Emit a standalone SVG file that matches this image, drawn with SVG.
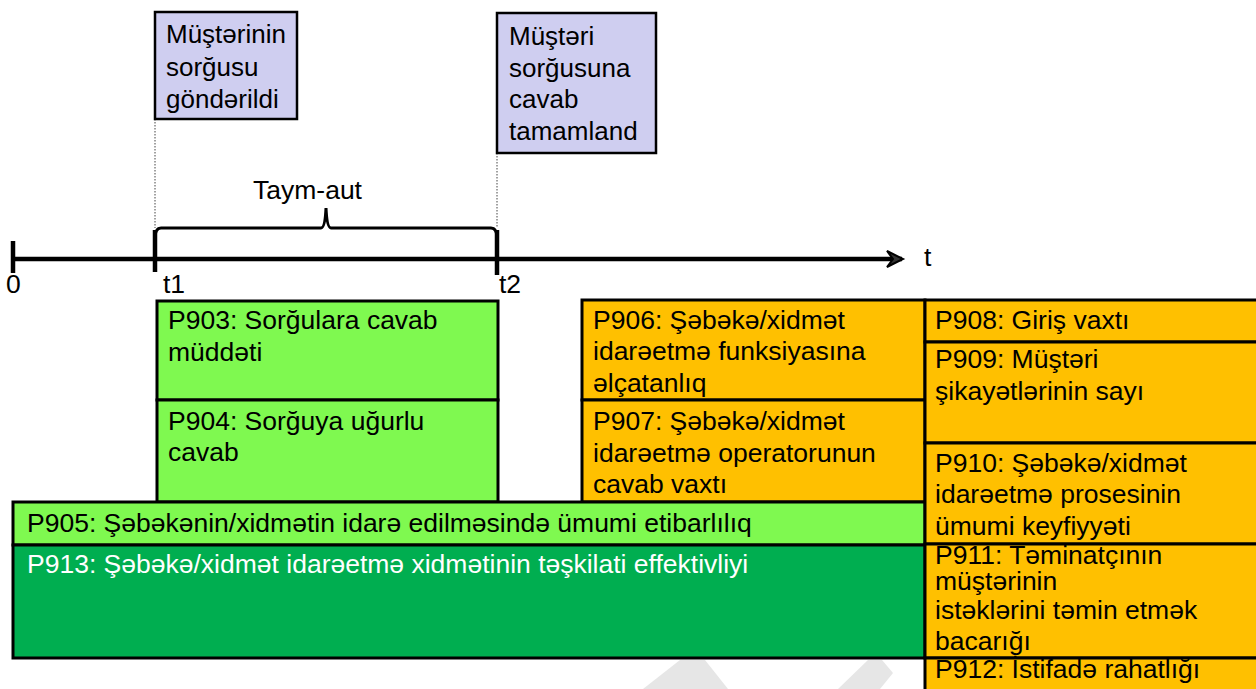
<svg xmlns="http://www.w3.org/2000/svg" width="1256" height="689" viewBox="0 0 1256 689">
  <style>
    text { font-family: "Liberation Sans", Arial, sans-serif; font-size: 26.5px; fill: #000; }
    .box { stroke: #000; stroke-width: 3; }
    .light { fill: #7FF950; }
    .dark { fill: #00AE50; }
    .gold { fill: #FFC000; }
    .event { fill: #CFCEF0; stroke: #000; stroke-width: 2.5; }
    .guide { stroke: #444; stroke-width: 1; stroke-dasharray: 1.5 1.5; fill: none; }
    .axis { stroke: #000; stroke-width: 4.5; fill: none; }
    .white { fill: #fff; }
    .tight { font-size: 26px; }
  </style>
  <defs>
    <marker id="arrow" viewBox="0 0 20 20" refX="16" refY="10" markerWidth="20" markerHeight="20" markerUnits="userSpaceOnUse" orient="auto">
      <path d="M1,2 L17,10 L1,18 L7,10 Z" fill="#333" stroke="#000" stroke-width="2" stroke-linejoin="miter"/>
    </marker>
  </defs>

  <rect width="1256" height="689" fill="#fff"/>

  <!-- faint background marks -->
  <g fill="#e6e6e6">
    <path d="M643,689 L680,660 L705,660 L728,689 Z"/>
    <path d="M838,689 L868,660 L882,660 L893,673 L880,689 Z"/>
  </g>

  <!-- time axis and brace -->
  <g id="connectors">
    <line class="axis" x1="13" y1="259" x2="902" y2="259" marker-end="url(#arrow)"/>
    <line class="axis" x1="13" y1="241" x2="13" y2="273"/>
    <line class="axis" x1="155" y1="230" x2="155" y2="272"/>
    <line class="axis" x1="497" y1="230" x2="497" y2="275"/>
    <path d="M155,238 Q155,228 161,228 L321,228 Q325,228 326,208 Q327,228 331,228 L491,228 Q497,228 497,238" fill="none" stroke="#000" stroke-width="3"/>
    <line class="guide" x1="155" y1="119" x2="155" y2="228"/>
    <line class="guide" x1="497" y1="153" x2="497" y2="228"/>
  </g>

  <g id="axis-labels">
    <text x="6" y="293">0</text>
    <text x="163" y="293">t1</text>
    <text x="499" y="293">t2</text>
    <text x="924" y="266">t</text>
    <text x="253" y="199">Taym-aut</text>
  </g>

  <g id="event-sent">
    <rect class="event" x="155" y="12" width="142" height="107"/>
    <text class="tight" x="166" y="43">Müştərinin</text>
    <text class="tight" x="166" y="76">sorğusu</text>
    <text class="tight" x="166" y="108">göndərildi</text>
  </g>

  <g id="event-done">
    <rect class="event" x="497" y="13" width="159" height="140"/>
    <text class="tight" x="509" y="45">Müştəri</text>
    <text class="tight" x="509" y="77">sorğusuna</text>
    <text class="tight" x="509" y="108">cavab</text>
    <text class="tight" x="509" y="140">tamamland</text>
  </g>

  <g id="p903">
    <rect class="box light" x="157" y="301" width="341" height="99"/>
    <text x="168" y="329">P903: Sorğulara cavab</text>
    <text x="168" y="361">müddəti</text>
  </g>

  <g id="p904">
    <rect class="box light" x="157" y="400" width="341" height="102"/>
    <text x="168" y="430">P904: Sorğuya uğurlu</text>
    <text x="168" y="461">cavab</text>
  </g>

  <g id="p906">
    <rect class="box gold" x="582" y="300" width="343" height="100"/>
    <text x="593" y="329">P906: Şəbəkə/xidmət</text>
    <text x="593" y="360">idarəetmə funksiyasına</text>
    <text x="593" y="392">əlçatanlıq</text>
  </g>

  <g id="p907">
    <rect class="box gold" x="582" y="400" width="343" height="102"/>
    <text x="593" y="430">P907: Şəbəkə/xidmət</text>
    <text x="593" y="462">idarəetmə operatorunun</text>
    <text x="593" y="493">cavab vaxtı</text>
  </g>

  <g id="p905">
    <rect class="box light" x="13" y="502" width="912" height="43"/>
    <text x="27" y="532">P905: Şəbəkənin/xidmətin idarə edilməsində ümumi etibarlılıq</text>
  </g>

  <g id="p913">
    <rect class="box dark" x="13" y="545" width="912" height="113"/>
    <text class="white" x="27" y="573">P913: Şəbəkə/xidmət idarəetmə xidmətinin təşkilati effektivliyi</text>
  </g>

  <g id="p908">
    <rect class="box gold" x="925" y="300" width="334" height="42"/>
    <text x="935" y="329">P908: Giriş vaxtı</text>
  </g>

  <g id="p909">
    <rect class="box gold" x="925" y="342" width="334" height="101"/>
    <text x="935" y="368">P909: Müştəri</text>
    <text x="935" y="400">şikayətlərinin sayı</text>
  </g>

  <g id="p910">
    <rect class="box gold" x="925" y="443" width="334" height="101"/>
    <text x="935" y="472">P910: Şəbəkə/xidmət</text>
    <text x="935" y="503">idarəetmə prosesinin</text>
    <text x="935" y="535">ümumi keyfiyyəti</text>
  </g>

  <g id="p911">
    <rect class="box gold" x="925" y="544" width="334" height="114"/>
    <text x="935" y="564">P911: Təminatçının</text>
    <text x="935" y="590">müştərinin</text>
    <text x="935" y="619">istəklərini təmin etmək</text>
    <text x="935" y="650">bacarığı</text>
  </g>

  <g id="p912">
    <rect class="box gold" x="925" y="658" width="334" height="40"/>
    <text x="935" y="678">P912: İstifadə rahatlığı</text>
  </g>
</svg>
